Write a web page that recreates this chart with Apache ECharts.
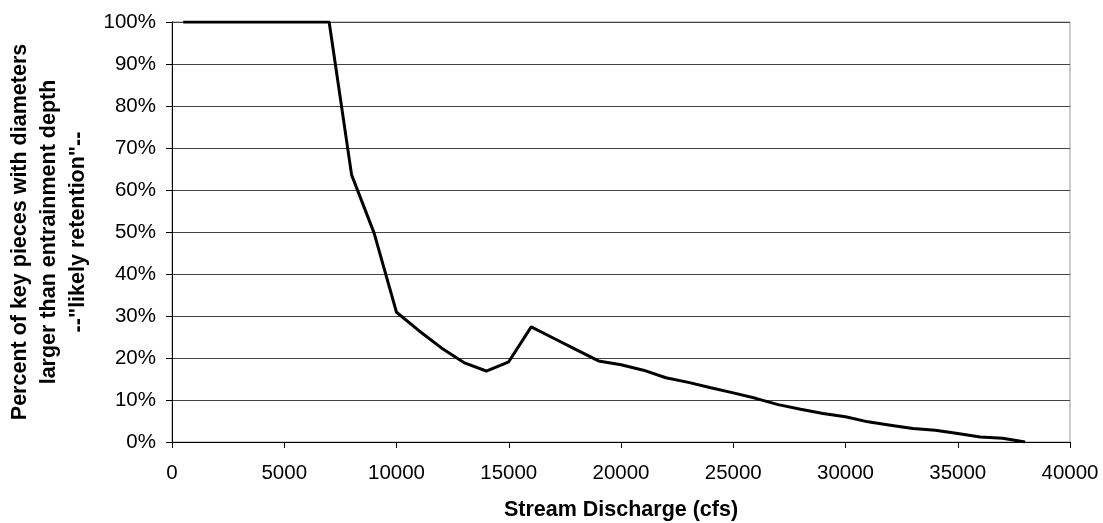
<!DOCTYPE html>
<html>
<head>
<meta charset="utf-8">
<script src="https://cdn.jsdelivr.net/npm/echarts@6/dist/echarts.min.js"></script>
<style>
html,body{margin:0;padding:0;background:#fff;}
#chart{width:1103px;height:523px;}
</style>
</head>
<body>
<div id="chart"></div>
<script>
// Stream discharge (cfs)
const discharge = [500, 1000, 2000, 3000, 4000, 5000, 6000, 7000, 8000, 9000, 10000,
  11000, 12000, 13000, 14000, 15000, 16000, 17000, 18000, 19000, 20000,
  21000, 22000, 23000, 24000, 25000, 26000, 27000, 28000, 29000, 30000,
  31000, 32000, 33000, 34000, 35000, 36000, 37000, 38000];
// Percent of key pieces retained
const retention = [100, 100, 100, 100, 100, 100, 100, 100, 63.6, 49.8, 30.9,
  26.5, 22.4, 18.9, 16.9, 19.1, 27.4, 24.7, 22.0, 19.3, 18.4,
  17.1, 15.3, 14.2, 12.9, 11.7, 10.4, 8.9, 7.8, 6.8, 6.0,
  4.8, 4.0, 3.2, 2.8, 2.0, 1.2, 0.9, 0];
const xTitle = 'Stream Discharge (cfs)';
const yTitle = 'Percent of key pieces with diameters\nlarger than entrainment depth\n--"likely retention"--';

const chart = echarts.init(document.getElementById('chart'), null, {renderer: 'canvas'});
const font = '"Liberation Sans", Arial, sans-serif';
chart.setOption({
  animation: false,
  backgroundColor: '#fff',
  grid: {left: 172, right: 33, top: 22, bottom: 81, outerBoundsMode: 'none', containLabel: false,
    show: true, borderColor: '#999', borderWidth: 1, backgroundColor: 'transparent'},
  xAxis: {
    type: 'value', min: 0, max: 40000, interval: 5000,
    name: xTitle, nameLocation: 'middle', nameGap: 57,
    nameTextStyle: {fontFamily: font, fontSize: 21.5, fontWeight: 'bold', color: '#000'},
    axisLine: {show: true, onZero: false, lineStyle: {color: '#000', width: 1}},
    axisTick: {show: true, length: 6, lineStyle: {color: '#000'}},
    axisLabel: {fontFamily: font, fontSize: 20.5, color: '#000', margin: 21, formatter: v => String(v)},
    splitLine: {show: false}
  },
  yAxis: {
    type: 'value', min: 0, max: 100, interval: 10,
    name: yTitle, nameLocation: 'middle', nameGap: 78,
    nameTextStyle: {fontFamily: font, fontSize: 21.5, fontWeight: 'bold', color: '#000', lineHeight: 29, align: 'center'},
    axisLine: {show: true, lineStyle: {color: '#000', width: 1}},
    axisTick: {show: true, length: 6, lineStyle: {color: '#000'}},
    axisLabel: {fontFamily: font, fontSize: 20.5, color: '#000', margin: 16, formatter: '{value}%'},
    splitLine: {show: true, lineStyle: {color: '#444', width: 1}}
  },
  series: [{
    type: 'line',
    data: discharge.map((x, i) => [x, retention[i]]),
    showSymbol: false,
    lineStyle: {color: '#000', width: 3},
    itemStyle: {color: '#000'}
  }]
});
</script>
</body>
</html>
